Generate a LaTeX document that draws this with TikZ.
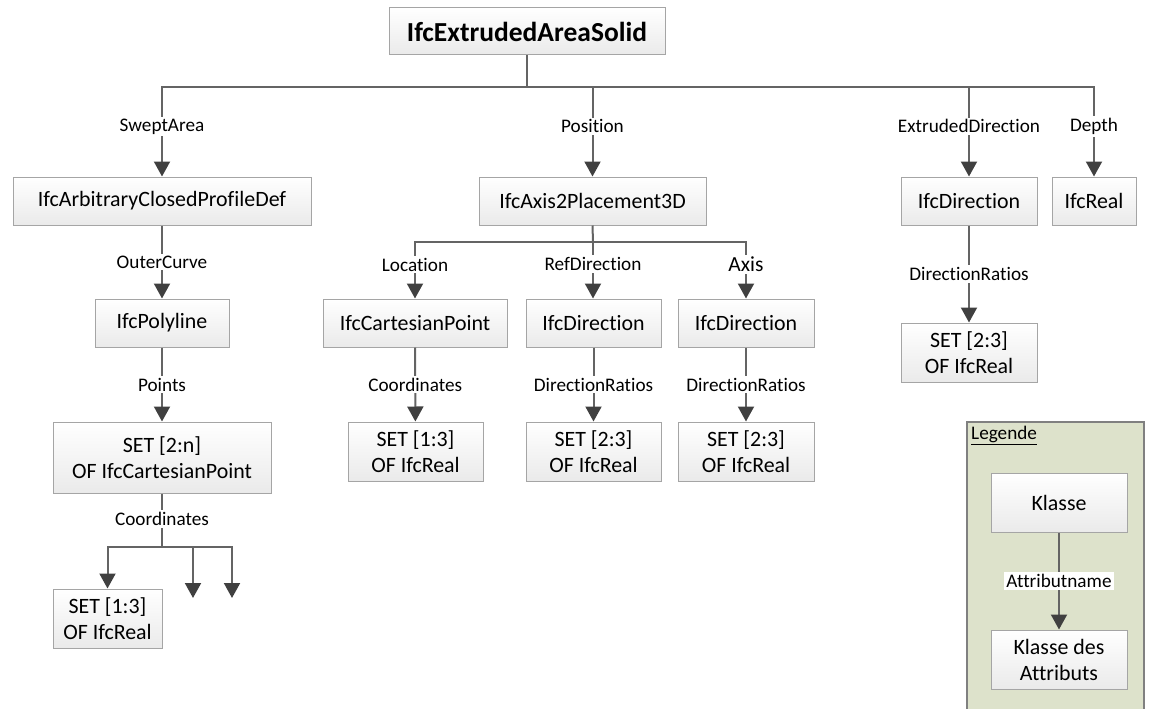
\documentclass[tikz,border=0pt]{standalone}
\usepackage{fontspec}
\setmainfont{Carlito}[Ligatures=NoCommon]
\usetikzlibrary{arrows.meta}
\definecolor{lgrau}{RGB}{100,100,100}
\definecolor{spitze}{RGB}{64,64,64}
\definecolor{rahmen}{RGB}{165,165,165}
\definecolor{boxgrau}{RGB}{234,234,234}
\definecolor{legendgruen}{RGB}{221,226,203}
\tikzset{
  klasse/.style={draw=rahmen, line width=1pt, top color=white, bottom color=boxgrau,
    align=center, inner sep=0pt, minimum height=48pt, font=\fontsize{21.9}{26}\selectfont},
  menge/.style={klasse, minimum height=59pt},
  attr/.style={fill=white, inner sep=2pt, font=\fontsize{19.2}{23}\selectfont},
  linie/.style={draw=lgrau, line width=2pt},
  pfeil/.style={linie, -{Triangle[width=16pt,length=15pt,color=spitze]}},
}
\begin{document}
\begin{tikzpicture}[x=1pt,y=-1pt]
\useasboundingbox (0,0) rectangle (1154,709);
% Legend background
\draw[draw=gray, line width=1.5pt, fill=legendgruen] (967,422) rectangle (1144,720);

% Classes
\node[klasse, minimum width=276pt, minimum height=47pt, font=\fontsize{27.5}{33}\selectfont\bfseries] (es) at (527,31.5) {IfcExtrudedAreaSolid};
\node[klasse, minimum width=298pt] (acpd) at (162,201) {IfcArbitraryClosedProfileDef};
\node[klasse, minimum width=227pt] (a2p) at (592.5,201) {IfcAxis2Placement3D};
\node[klasse, minimum width=136pt] (dirE) at (969,201) {IfcDirection};
\node[klasse, minimum width=84pt] (real) at (1094,201) {IfcReal};
\node[klasse, minimum width=134pt] (poly) at (162,323) {IfcPolyline};
\node[klasse, minimum width=184pt] (cp) at (415,323) {IfcCartesianPoint};
\node[klasse, minimum width=135pt] (dirR) at (593.5,323) {IfcDirection};
\node[klasse, minimum width=136pt] (dirA) at (746,323) {IfcDirection};

% Sets
\node[menge, minimum width=218pt, minimum height=71pt] (setPts) at (162,457.5) {SET [2:n]\\OF IfcCartesianPoint};
\node[menge, minimum width=109pt] (setC) at (107.5,618.5) {SET [1:3]\\OF IfcReal};
\node[menge, minimum width=135pt] (setCP) at (415.5,451.5) {SET [1:3]\\OF IfcReal};
\node[menge, minimum width=135pt] (setR) at (593.5,451.5) {SET [2:3]\\OF IfcReal};
\node[menge, minimum width=136pt] (setA) at (746,451.5) {SET [2:3]\\OF IfcReal};
\node[menge, minimum width=136pt] (setE) at (969,352.5) {SET [2:3]\\OF IfcReal};

% Bus points
\coordinate (bus) at (527,87);
\coordinate (p) at (593,242);
\coordinate (k) at (162,547);
\coordinate (k2) at (193,598);
\coordinate (k3) at (232,598);

% Attributes of IfcExtrudedAreaSolid
\draw[linie] (es.south) -- (bus);
\draw[pfeil] (bus) -| node[attr, pos=.72] {SweptArea} (acpd.north);
\draw[pfeil] (bus) -| node[attr, pos=.72] {Position} (a2p.north);
\draw[pfeil] (bus) -| node[attr, pos=.72] {ExtrudedDirection} (dirE.north);
\draw[pfeil] (bus) -| node[attr, pos=.72] {Depth} (real.north);

% Profile
\draw[pfeil] (acpd) -- node[attr] {OuterCurve} (poly);
\draw[pfeil] (poly) -- node[attr] {Points} (setPts);
\draw[linie] (setPts.south) -- node[attr, pos=.48] {Coordinates} (k);
\draw[pfeil] (k) -| (setC.north);
\draw[pfeil] (k) -| (k2);
\draw[pfeil] (k) -| (k3);

% Placement
\draw[linie] (a2p.south) -- (p);
\draw[pfeil] (p) -| node[attr, pos=.7] {Location} (cp.north);
\draw[pfeil] (p) -- node[attr, pos=.39] {RefDirection} (p |- dirR.north);
\draw[pfeil] (p) -| node[attr, pos=.7, font=\fontsize{21.5}{26}\selectfont] {Axis} (dirA.north);
\draw[pfeil] (cp) -- node[attr] {Coordinates} (setCP);
\draw[pfeil] (dirR) -- node[attr] {DirectionRatios} (setR);
\draw[pfeil] (dirA) -- node[attr] {DirectionRatios} (setA);
\draw[pfeil] (dirE) -- node[attr] {DirectionRatios} (setE);

% Legend
\node[attr, fill=none, anchor=north west] (leg) at (969,424) {\underline{Legende}};
\node[menge, minimum width=136pt] (kl) at (1059,502.5) {Klasse};
\node[menge, minimum width=136pt] (kda) at (1059,659.5) {Klasse des\\Attributs};
\draw[pfeil] (kl) -- node[attr] {Attributname} (kda);
\end{tikzpicture}
\end{document}
